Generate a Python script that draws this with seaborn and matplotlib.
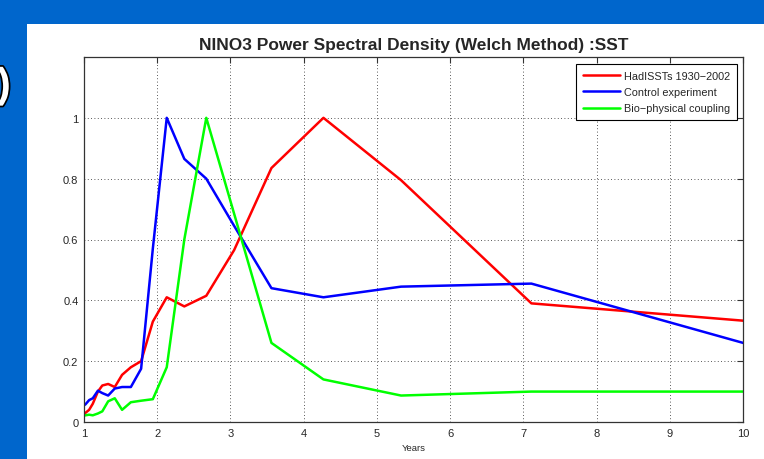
import matplotlib
matplotlib.use("Agg")
import matplotlib.pyplot as plt
import matplotlib.patheffects as pe
from matplotlib.patches import Rectangle
import seaborn as sns
import pandas as pd

# ---- data ----
years = [10.67, 7.11, 5.33, 4.27, 3.56, 3.05, 2.67, 2.37, 2.13, 1.94, 1.78,
         1.64, 1.52, 1.42, 1.33, 1.25, 1.19, 1.12, 1.07, 1.02, 0.97]
hadisst = [0.32, 0.39, 0.795, 1.0, 0.835, 0.565, 0.415, 0.38, 0.41, 0.33, 0.20,
           0.18, 0.155, 0.115, 0.125, 0.12, 0.10, 0.06, 0.04, 0.03, 0.02]
control = [0.215, 0.455, 0.445, 0.41, 0.44, 0.645, 0.80, 0.865, 1.0, 0.57, 0.175,
           0.115, 0.115, 0.11, 0.087, 0.095, 0.103, 0.078, 0.072, 0.058, 0.05]
biophys = [0.10, 0.10, 0.087, 0.14, 0.26, 0.685, 1.0, 0.60, 0.18, 0.075, 0.07,
           0.065, 0.04, 0.078, 0.068, 0.035, 0.028, 0.022, 0.024, 0.022, 0.02]
series_names = ["HadISSTs 1930\u22122002", "Control experiment", "Bio\u2212physical coupling"]
series_colors = ["#ff0000", "#0000ff", "#00ff00"]
x_ticks = [1, 2, 3, 4, 5, 6, 7, 8, 9, 10]
y_ticks = [0, 0.2, 0.4, 0.6, 0.8, 1.0]
y_tick_labels = ["0", "0.2", "0.4", "0.6", "0.8", "1"]
title = "NINO3 Power Spectral Density (Welch Method) :SST"
xlabel = "Years"

rows = []
for name, vals in zip(series_names, [hadisst, control, biophys]):
    for i, (x, y) in enumerate(zip(years, vals)):
        rows.append({"Years": x, "PSD": y, "series": name, "order": i})
df = pd.DataFrame(rows)

sns.set_style("white")
plt.rcParams["font.family"] = ["Liberation Sans", "DejaVu Sans"]

W, H = 764, 460
fig = plt.figure(figsize=(W / 100, H / 100), dpi=100)
fig.patch.set_facecolor("#0066cc")
panel = Rectangle((27 / W, 0), 1 - 27 / W, (H - 25) / H,
                  transform=fig.transFigure, facecolor="white",
                  edgecolor="none", zorder=-10)
fig.add_artist(panel)
fig.text(-0.004, 1 - 87 / H, ")", color="white", fontsize=30, fontweight="bold",
         ha="left", va="center", zorder=-5,
         path_effects=[pe.withStroke(linewidth=2.5, foreground="black")])

ax = fig.add_axes([84 / W, 1 - 423 / H, (743 - 84) / W, (423 - 58) / H])
ax.set_zorder(5)
ax.set_facecolor("white")

sns.lineplot(data=df, x="Years", y="PSD", hue="series", hue_order=series_names,
             palette=series_colors, sort=False, estimator=None, units="series",
             linewidth=1.8, ax=ax, legend=False)

ax.set_xlim(1, 10)
ax.set_ylim(0, 1.2)
ax.set_xticks(x_ticks)
ax.set_xticklabels([str(t) for t in x_ticks])
ax.set_yticks(y_ticks)
ax.set_yticklabels(y_tick_labels)
ax.tick_params(direction="in", length=4, width=0.8, color="#333333",
               labelsize=8, top=True, right=True, pad=4)
ax.grid(True, color="#222222", linestyle=(0, (1, 3)), linewidth=0.6)
for s in ax.spines.values():
    s.set_color("#333333")
    s.set_linewidth(0.9)
ax.set_xlabel(xlabel, fontsize=6.8, labelpad=4)
ax.set_ylabel("")
ax.set_title(title, fontsize=12.5, fontweight="bold", pad=6)

handles = [plt.Line2D([], [], color=c, linewidth=1.8) for c in series_colors]
leg = ax.legend(handles, series_names, loc="upper right",
                bbox_to_anchor=(1 - 6 / 659, 1 - 7 / 365), borderaxespad=0,
                fontsize=7.8, handlelength=3.4, labelspacing=0.6,
                fancybox=False, framealpha=1, edgecolor="black",
                borderpad=0.6, handletextpad=0.45)
leg.get_frame().set_linewidth(0.8)

fig.savefig("out.png", dpi=100)
